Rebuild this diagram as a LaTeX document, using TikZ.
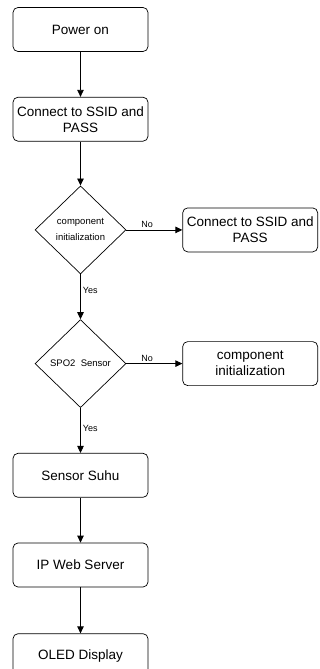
\documentclass[tikz,border=0pt]{standalone}
\usepackage{fontspec}
\setmainfont{Liberation Sans}
\usetikzlibrary{positioning,shapes.geometric,arrows.meta}

\tikzset{
  stepbox/.style={draw, rounded corners=5pt, minimum width=135pt, minimum height=44pt,
    align=center, inner sep=1pt, font=\fontsize{13.5}{16}\selectfont},
  decision/.style={draw, diamond, minimum width=91pt, minimum height=88pt, aspect=1.03,
    inner sep=0pt, align=center, font=\fontsize{9.5}{16}\selectfont},
  flow/.style={-{Triangle[width=6.5pt,length=7pt]}, line width=0.8pt},
  lbl/.style={font=\fontsize{9}{10}\selectfont, inner sep=2pt},
}

\begin{document}
\begin{tikzpicture}[line width=0.7pt]
  \clip (0,0) rectangle (320pt,-669pt);
  \useasboundingbox (0,0) rectangle (320pt,-669pt);
  \node [stepbox] (power) at (80.5pt,-29.5pt) {Power on};
  \node [stepbox, below=45pt of power] (connect) {Connect to SSID and\\PASS};
  \node [decision, below=44pt of connect] (init) {component\\initialization};
  \node [stepbox, right=56pt of init] (reconnect) {Connect to SSID and\\PASS};
  \node [decision, below=45pt of init] (spo) {SPO2~~Sensor};
  \node [stepbox, right=56pt of spo] (reinit) {component\\initialization};
  \node [stepbox, below=45pt of spo] (suhu) {Sensor Suhu};
  \node [stepbox, below=45pt of suhu] (web) {IP Web Server};
  \node [stepbox, below=46pt of web] (oled) {OLED Display};

  \draw [flow] (power) -- (connect);
  \draw [flow] (connect) -- (init);
  \draw [flow] (init) -- node [lbl, pos=0.37, above] {No} (reconnect);
  \draw [flow] (init) -- node [lbl, pos=0.35, right] {Yes} (spo);
  \draw [flow] (spo) -- node [lbl, pos=0.37, above] {No} (reinit);
  \draw [flow] (spo) -- node [lbl, pos=0.45, right] {Yes} (suhu);
  \draw [flow] (suhu) -- (web);
  \draw [flow] (web) -- (oled);
\end{tikzpicture}
\end{document}
